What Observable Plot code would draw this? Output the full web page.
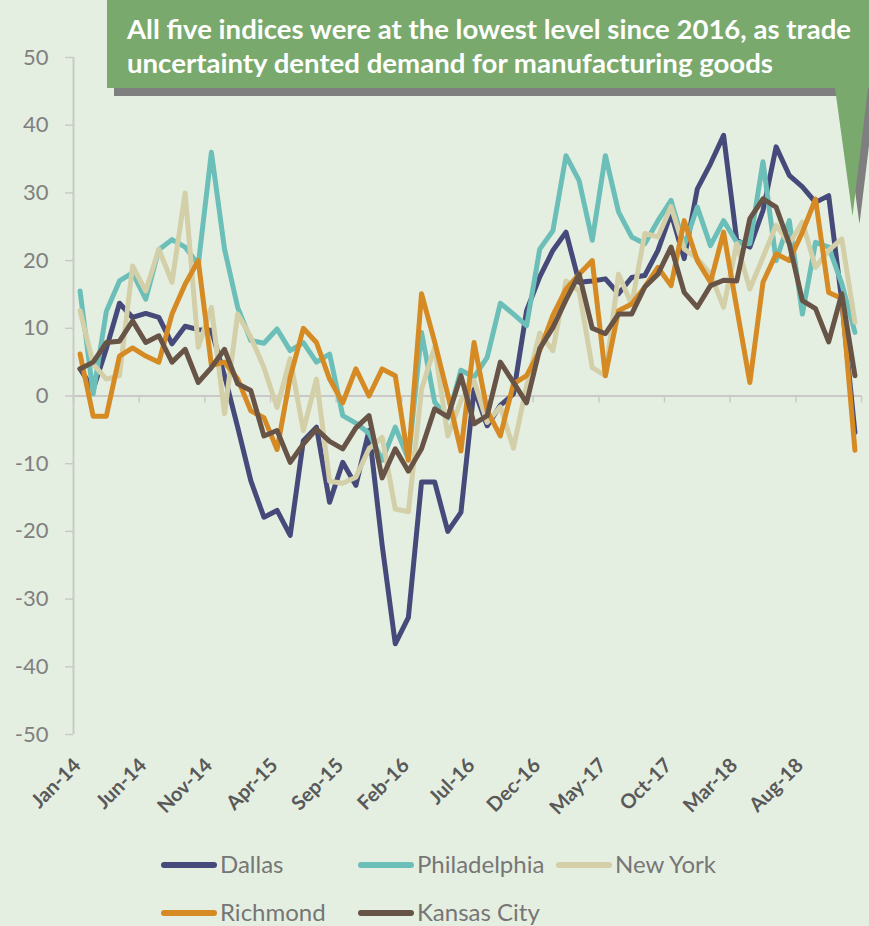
<!DOCTYPE html>
<html><head><meta charset="utf-8">
<script src="https://cdn.jsdelivr.net/npm/d3@7"></script>
<script src="https://cdn.jsdelivr.net/npm/@observablehq/plot@0.6"></script>
<style>
body{margin:0;background:#e5efe1;}
#wrap{position:relative;width:869px;height:926px;overflow:hidden;background:#e5efe1;font-family:Lato,sans-serif;}
#wrap > svg{position:absolute;left:0;top:0;}
</style></head><body><div id="wrap"></div>
<script>
const months = ["Jan-14","Feb-14","Mar-14","Apr-14","May-14","Jun-14","Jul-14","Aug-14","Sep-14","Oct-14","Nov-14","Dec-14",
"Jan-15","Feb-15","Mar-15","Apr-15","May-15","Jun-15","Jul-15","Aug-15","Sep-15","Oct-15","Nov-15","Dec-15",
"Jan-16","Feb-16","Mar-16","Apr-16","May-16","Jun-16","Jul-16","Aug-16","Sep-16","Oct-16","Nov-16","Dec-16",
"Jan-17","Feb-17","Mar-17","Apr-17","May-17","Jun-17","Jul-17","Aug-17","Sep-17","Oct-17","Nov-17","Dec-17",
"Jan-18","Feb-18","Mar-18","Apr-18","May-18","Jun-18","Jul-18","Aug-18","Sep-18","Oct-18","Nov-18","Dec-18"];
const tickLabels = ["Jan-14","Jun-14","Nov-14","Apr-15","Sep-15","Feb-16","Jul-16","Dec-16","May-17","Oct-17","Mar-18","Aug-18"];
const yTicks = [-50,-40,-30,-20,-10,0,10,20,30,40,50];

const seriesNames = ["Dallas","Philadelphia","New York","Richmond","Kansas City"];
const seriesColors = ["#464a7a","#6bbfb8","#d3cfa9","#d68a23","#685446"];

const dallas = [4, 1, 7, 13.7, 11.6, 12.2, 11.6, 7.7, 10.3, 9.8, 9.7, 3, -4.6, -12.5, -17.9, -16.9, -20.6, -6.6, -4.6, -15.7,
 -9.8, -13.2, -5.1, -22, -36.6, -32.7, -12.7, -12.7, -20, -17.2, 1, -4.4, -1.4, 0.3, 12.6, 17.6, 21.5, 24.2, 16.8, 17,
 17.3, 15.1, 17.5, 17.8, 21.5, 27, 20.3, 30.6, 34.3, 38.5, 23, 22, 27.4, 36.8, 32.6, 30.9, 28.6, 29.6, 14, -5.4];
const philadelphia = [15.5, 0.3, 12.5, 17, 18.2, 14.3, 21.6, 23.1, 22, 19.4, 36, 21.7, 13.1, 8.2, 7.8, 9.9, 6.7, 7.9, 5, 6.2,
 -2.9, -4, -5.5, -9.5, -4.6, -9.3, 9.4, -0.9, -3.3, 3.8, 2.8, 5.7, 13.7, 12.1, 10.4, 21.7, 24.4, 35.5, 31.8, 23,
 35.5, 27.2, 23.5, 22.5, 25.9, 28.9, 22.2, 27.9, 22.2, 25.9, 22.7, 22.5, 34.6, 20, 25.9, 12.1, 22.7, 22, 16.6, 9.4];
const newYork = [12.6, 4.7, 2.5, 3, 19.2, 15.5, 21.7, 16.8, 30, 7.2, 13.1, -2.6, 12.1, 8.7, 4.2, -1.7, 5.5, -5.1, 2.5, -12.6,
 -12.9, -12, -7.8, -6.1, -16.7, -17.1, 1, 7.2, -5.9, -0.7, 2.3, -3.9, -1.6, -7.7, 1.5, 9.3, 6.7, 17, 15.5, 4.2,
 3, 18, 13.5, 24, 23.5, 28, 21.7, 20.3, 18, 13.1, 22.5, 15.8, 20.5, 25.2, 22.5, 25.7, 19, 21.5, 23.2, 10.9];
const richmond = [6.2, -3, -3, 5.9, 7.1, 5.9, 5, 12.1, 16.5, 20, 4.5, 5, 2.5, -2.2, -3.2, -7.9, 2.8, 10, 7.9, 2.5,
 -1, 4, 0, 4, 3, -9.5, 15.1, 8, 0.2, -8.1, 7.9, -2.2, -5.9, 1.8, 3, 6.7, 11.9, 15.8, 18, 20,
 3, 12.6, 13.6, 16.1, 19, 16.3, 25.9, 20, 16.8, 24.2, 13, 2, 16.8, 21, 20, 24.2, 29.1, 15.3, 14.4, -8];
const kansasCity = [4, 5, 7.9, 8.1, 11.1, 7.9, 8.9, 5, 6.9, 2, 4.2, 6.9, 1.8, 0.8, -5.9, -5.1, -9.8, -7.1, -4.9, -6.7,
 -7.8, -4.7, -2.9, -12.1, -7.8, -11.1, -7.8, -1.9, -3.1, 3, -4.1, -2.9, 5, 2, -1, 7, 10.1, 14.2, 18, 10,
 9.2, 12.1, 12.1, 16.1, 18, 22, 15.3, 13.1, 16.3, 17.1, 17, 26.2, 29.1, 27.9, 22.5, 14.1, 12.9, 8, 15.1, 3];

const seriesValues = [dallas, philadelphia, newYork, richmond, kansasCity];
const table = [];
seriesNames.forEach((s, k) => seriesValues[k].forEach((v, i) => table.push({s, i, v})));

const tickIdx = tickLabels.map(l => months.indexOf(l));
const boundaries = d3.range(0, months.length + 1, 5).map(k => k - 0.5);
const axisCol = "#c9c9c9";

const chart = Plot.plot({
  width: 869, height: 835,
  marginLeft: 73, marginRight: 8, marginTop: 57, marginBottom: 101,
  style: {background: "transparent", fontFamily: "Lato, sans-serif", overflow: "visible"},
  x: {type: "linear", domain: [-0.5, months.length - 0.5], axis: null},
  y: {domain: [-50, 50], axis: null},
  color: {domain: seriesNames, range: seriesColors},
  marks: [
    Plot.ruleY(yTicks, {x1: -0.5, x2: -0.5, insetLeft: -8, stroke: axisCol, strokeWidth: 1.5}),
    Plot.ruleX([-0.5], {stroke: axisCol, strokeWidth: 2}),
    Plot.ruleY([0], {stroke: axisCol, strokeWidth: 2}),
    Plot.ruleX(boundaries, {y1: 0, y2: 0, insetBottom: -7, stroke: axisCol, strokeWidth: 1.5}),
    Plot.text(yTicks, {x: -0.5, y: d => d, text: d => String(d), textAnchor: "end", dx: -25, fontSize: 22, fill: "#808080"}),
    Plot.text(tickIdx, {x: d => d, frameAnchor: "bottom", text: d => months[d], rotate: -45, textAnchor: "end",
      dx: 2, dy: 32, fontSize: 20, fontWeight: "bold", fill: "#595959"}),
    Plot.line(table, {x: "i", y: "v", z: "s", stroke: "s", strokeWidth: 5, strokeLinejoin: "round", strokeLinecap: "round"})
  ]
});
const wrap = document.getElementById("wrap");
wrap.appendChild(chart);

// overlay: callout + legend
const svg = d3.select(wrap).append("svg").attr("width", 869).attr("height", 926)
  .style("pointer-events", "none").style("font-family", "Lato, sans-serif");
const shape = "M107,0 H890 V88 H868 L852.5,216 L835,88 H107 Z";
svg.append("path").attr("d", shape).attr("fill", "#7f7f7f").attr("transform", "translate(7,8)");
svg.append("path").attr("d", shape).attr("fill", "#79a96c");
const calloutLines = ["All five indices were at the lowest level since 2016, as trade",
  "uncertainty dented demand for manufacturing goods"];
const calloutLen = [724, 646];
calloutLines.forEach((t, k) => {
  svg.append("text").attr("x", 127).attr("y", 39 + k * 34).attr("fill", "#ffffff")
    .attr("font-size", 26).attr("font-weight", "bold")
    .attr("textLength", calloutLen[k]).attr("lengthAdjust", "spacingAndGlyphs").text(t);
});

const legendPos = [[161, 865], [358, 865], [556, 865], [161, 913], [358, 913]];
seriesNames.forEach((s, k) => {
  const [x, y] = legendPos[k];
  svg.append("line").attr("x1", x + 3).attr("x2", x + 53).attr("y1", y).attr("y2", y)
    .attr("stroke", seriesColors[k]).attr("stroke-width", 6).attr("stroke-linecap", "round");
  svg.append("text").attr("x", x + 59).attr("y", y).attr("dy", "0.35em")
    .attr("font-size", 24).attr("fill", "#767676").text(s);
});
</script></body></html>
